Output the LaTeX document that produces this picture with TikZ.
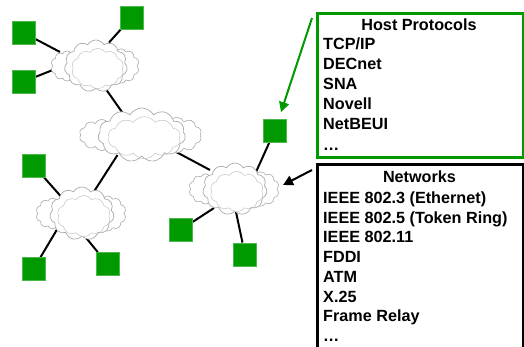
\documentclass[tikz,border=0pt]{standalone}
\usepackage{fontspec}
\setmainfont{Liberation Sans}
\usetikzlibrary{shapes.symbols,arrows.meta,calc,backgrounds}
\definecolor{hostgreen}{RGB}{0,153,0}
\definecolor{cloudgray}{RGB}{170,170,170}

\tikzset{
  hostsq/.style={rectangle, fill=hostgreen, draw=hostgreen!70!white, line width=0.8pt,
    minimum size=23pt, inner sep=0pt},
  link/.style={line width=2pt, black},
  cloudpart/.style={cloud, cloud puffs=11, cloud puff arc=120, draw=cloudgray,
    fill=white, line width=0.7pt, inner sep=0pt},
  cloudside/.style={cloud, cloud puffs=10, cloud puff arc=130, draw=cloudgray,
    fill=white, line width=0.6pt, inner sep=0pt},
  cloudecho/.style={cloud, cloud puffs=10, cloud puff arc=110, draw=cloudgray!70,
    line width=0.5pt, inner sep=0pt},
  listtext/.style={font=\bfseries\fontsize{16.2}{19}\selectfont, inner sep=0pt},
  listbox/.style={rectangle, line width=2.6pt, minimum width=206pt, inner sep=0pt,
    anchor=north west},
  greenarrow/.style={line width=2pt, draw=hostgreen, -{Triangle[length=10pt,width=10pt]}},
  blackarrow/.style={line width=2pt, draw=black, -{Triangle[length=10pt,width=10pt]}},
  % a network cloud: a large puff with smaller puffs behind each side, overall size #1 x #2
  pics/netcloud/.style 2 args={code={
    \coordinate (-c) at (0,0);
    \node[cloudside, minimum width=0.4*#1, minimum height=0.66*#2] at (0.29*#1,0.0*#2) {};
    \node[cloudside, minimum width=0.36*#1, minimum height=0.58*#2] at (-0.31*#1,0.0*#2) {};
    \node[cloudpart, minimum width=0.7*#1, minimum height=#2] (-main) at (0.01*#1,0) {};
    \node[cloudecho, minimum width=0.58*#1, minimum height=0.78*#2] at (0.03*#1,0.05*#2) {};
  }}
}

\begin{document}
\begin{tikzpicture}[x=1pt,y=-1pt]
\useasboundingbox (0,0) rectangle (524,346);
\clip (0,0) rectangle (524,346);

% clouds
\pic (c1) at (95,66) {netcloud={90}{52}};
\pic (c2) at (140.5,135) {netcloud={125}{54}};
\pic (c3) at (81,213.5) {netcloud={92}{53}};
\pic (c4) at (234,189) {netcloud={92}{52}};

% hosts
\node[hostsq] (sqA) at (24,33) {};
\node[hostsq] (sqB) at (131.5,17.5) {};
\node[hostsq] (sqC) at (24,81.5) {};
\node[hostsq] (sqD) at (274.5,131) {};
\node[hostsq] (sqE) at (33.5,165.5) {};
\node[hostsq] (sqF) at (33.5,269) {};
\node[hostsq] (sqG) at (107.5,264) {};
\node[hostsq] (sqH) at (181,229.5) {};
\node[hostsq] (sqI) at (245,254.5) {};

% links, drawn under the clouds
\begin{scope}[on background layer]
  \draw[link] (sqA) -- ($(c1-c)+(-35,-14)$);
  \draw[link] (sqC) -- ($(c1-c)+(-36,1.5)$);
  \draw[link] (sqB) -- ($(c1-c)+(14,-23.5)$);
  \draw[link] ($(c1-c)+(8,19)$) -- ($(c2-c)+(-15,-18)$);
  \draw[link] ($(c2-c)+(-23,20)$) -- ($(c3-c)+(13,-22)$);
  \draw[link] ($(c2-c)+(32,15)$) -- ($(c4-c)+(-24,-19)$);
  \draw[link] (sqD) -- ($(c4-c)+(22,-17)$);
  \draw[link] (sqH) -- ($(c4-c)+(-20,19)$);
  \draw[link] (sqI) -- ($(c4-c)+(2,23)$);
  \draw[link] (sqE) -- ($(c3-c)+(-20,-17)$);
  \draw[link] (sqF) -- ($(c3-c)+(-24,16)$);
  \draw[link] (sqG) -- ($(c3-c)+(4,23)$);
\end{scope}

% protocol list
\node[listbox, draw=hostgreen, minimum height=144pt] (hostbox) at (316,12) {};
\node[listtext, anchor=base] (hosttitle) at (419,30.5) {Host Protocols};
\foreach \t [count=\i] in {TCP/IP, DECnet, SNA, Novell, NetBEUI, …}
  \node[listtext, anchor=base west] (hp\i) at (323,28.8+20.2*\i) {\t};

% network list
\node[listbox, draw=black, minimum height=200pt] (netbox) at (316,163) {};
\node[listtext, anchor=base] (nettitle) at (419.5,182.7) {Networks};
\foreach \t [count=\i] in {IEEE 802.3 (Ethernet), IEEE 802.5 (Token Ring), IEEE 802.11,
    FDDI, ATM, X.25, Frame Relay, …}
  \node[listtext, anchor=base west] (nw\i) at (323,183.65+19.75*\i) {\t};

% pointers
\draw[greenarrow] ($(hostbox.north west)+(-4,6)$) -- ($(sqD.north)+(6.5,-7)$);
\draw[blackarrow] ($(netbox.north west)+(-4,7)$) -- ($(c4-c)+(49,-4)$);
\end{tikzpicture}
\end{document}
